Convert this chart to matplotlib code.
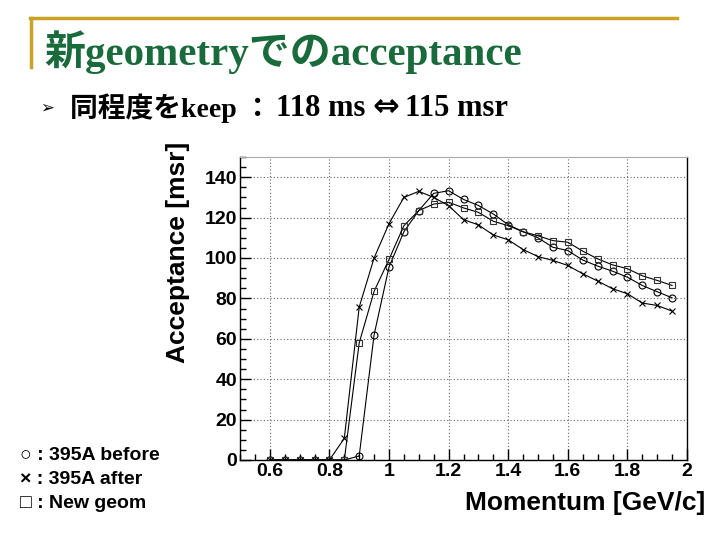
import numpy as np
import matplotlib
matplotlib.use("Agg")
import matplotlib.pyplot as plt
from matplotlib.lines import Line2D
from matplotlib.ticker import MultipleLocator

# ====== DATA ======
momentum = [0.60, 0.65, 0.70, 0.75, 0.80, 0.85, 0.90, 0.95, 1.00, 1.05,
            1.10, 1.15, 1.20, 1.25, 1.30, 1.35, 1.40, 1.45, 1.50, 1.55,
            1.60, 1.65, 1.70, 1.75, 1.80, 1.85, 1.90, 1.95]

before_395A = [0, 0, 0, 0, 0, 0, 2, 62, 95.5, 113,
               123.5, 132, 133.3, 129, 126, 121.8, 116.5, 113, 110, 105.3,
               103.7, 99, 96, 93.5, 90.5, 86.4, 83.3, 80.3]

after_395A = [0, 0, 0, 0, 0, 10.7, 75.7, 100, 117, 130,
              133, 130, 125.9, 119, 116.4, 111.4, 109, 104.2, 100.7, 98.8,
              96.3, 92.2, 88.6, 84.8, 82.3, 77.7, 76.5, 73.7]

new_geom = [0, 0, 0, 0, 0, 0, 58, 83.5, 99.3, 116,
            123.5, 126.7, 127.6, 124.8, 122.6, 118.2, 116, 113, 111, 108.6,
            107.8, 103.4, 99.6, 96.6, 94.7, 91.2, 88.9, 86.4]

legend_lines = ["\u25cb : 395A before", "\u00d7 : 395A after", "\u25a1 : New geom"]
# ===========================================

W, H = 720, 540
fig = plt.figure(figsize=(7.2, 5.4), dpi=100)
fig.patch.set_facecolor("white")


def fx(px):
    return px / W


def fy(py):
    return 1 - py / H


# slide decoration (gold rule)
gold = "#c9a227"
fig.add_artist(Line2D([fx(30), fx(677)], [fy(18), fy(18)], color=gold, lw=2.5))
fig.add_artist(Line2D([fx(31), fx(31)], [fy(18), fy(67)], color=gold, lw=2.5))

# slide title / subtitle
fig.text(fx(44), fy(52), "新geometryでのacceptance", color="#1a6b3c",
         family=["Liberation Serif", "Noto Sans CJK JP"], weight="bold",
         fontsize=29.5, va="center", ha="left")
fig.text(fx(40), fy(108), "\u27a2", family=["DejaVu Sans"], fontsize=12,
         va="center", ha="left")
fig.text(fx(70), fy(108), "同程度をkeep ：",
         family=["Liberation Serif", "Noto Sans CJK JP"],
         weight="bold", fontsize=20, va="center", ha="left")
fig.text(fx(276), fy(108), "118 ms", family=["Liberation Serif"],
         weight="bold", fontsize=22, va="center", ha="left")
fig.text(fx(386), fy(107), "\u21d4", family=["DejaVu Sans"],
         weight="bold", fontsize=23, va="center", ha="center")
fig.text(fx(405), fy(108), "115 msr", family=["Liberation Serif"],
         weight="bold", fontsize=22, va="center", ha="left")

# legend-like text on the left
for i, s in enumerate(legend_lines):
    fig.text(fx(20), fy(455 + 24 * i), s,
             family=["Liberation Sans", "DejaVu Sans"], weight="bold",
             fontsize=14, va="center", ha="left")

# ====== PLOT ======
ax = fig.add_axes([fx(240), fy(460), fx(687) - fx(240), (460 - 157) / H])

ax.plot(momentum, before_395A, color="black", lw=0.8, marker="o", ms=5,
        mfc="none", mec="black", mew=0.8)
ax.plot(momentum, after_395A, color="black", lw=0.8, marker="x", ms=4,
        mec="black", mew=0.8)
ax.plot(momentum, new_geom, color="black", lw=0.8, marker="s", ms=5,
        mfc="none", mec="#333333", mew=0.8)

ax.set_xlim(0.5, 2.0)
ax.set_ylim(0, 150)

ax.xaxis.set_minor_locator(MultipleLocator(0.05))
ax.yaxis.set_major_locator(MultipleLocator(20))
ax.yaxis.set_minor_locator(MultipleLocator(5))

ax.set_xticks([0.6, 0.8, 1.0, 1.2, 1.4, 1.6, 1.8, 2.0])
ax.set_xticklabels(["0.6", "0.8", "1", "1.2", "1.4", "1.6", "1.8", "2"])

ax.tick_params(which="both", direction="in", top=False, right=False)
ax.tick_params(which="major", length=8, width=1)
ax.tick_params(which="minor", length=4, width=1)
ax.tick_params(axis="x", pad=2)
ax.tick_params(axis="y", pad=2)
for lab in ax.get_xticklabels() + ax.get_yticklabels():
    lab.set_family("Liberation Sans")
    lab.set_fontweight("bold")
    lab.set_fontsize(14)

ax.grid(True, which="major", linestyle=(0, (1, 2)), color="#666666", lw=0.8)

for side in ["left", "bottom", "right"]:
    ax.spines[side].set_color("black")
    ax.spines[side].set_linewidth(1)
ax.spines["top"].set_color("#aaaaaa")
ax.spines["top"].set_linewidth(0.8)

fig.text(fx(178), fy(252), "Acceptance [msr]", rotation=90,
         family="Liberation Sans", weight="bold", fontsize=19,
         va="center", ha="center")
fig.text(fx(705), fy(503), "Momentum [GeV/c]", family="Liberation Sans",
         weight="bold", fontsize=19, va="center", ha="right")

fig.savefig("out.png", dpi=100)
